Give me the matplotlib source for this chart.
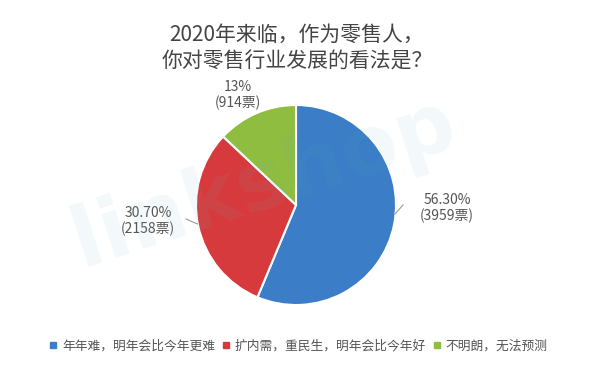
import matplotlib
matplotlib.use("Agg")
import matplotlib.pyplot as plt
from matplotlib.lines import Line2D

plt.rcParams['font.family'] = ['Noto Sans CJK SC', 'DejaVu Sans']

# Survey results
categories = ["年年难，明年会比今年更难", "扩内需，重民生，明年会比今年好", "不明朗，无法预测"]
shares = [56.3, 30.7, 13.0]
votes = [3959, 2158, 914]
pct_labels = ["56.30%", "30.70%", "13%"]
colors = ["#3b7dc6", "#d73a3c", "#8fbd40"]

title = "2020年来临，作为零售人，\n你对零售行业发展的看法是？"

W, H = 600, 365
fig = plt.figure(figsize=(W / 100, H / 100), dpi=100)
fig.patch.set_facecolor("white")

# Faint watermark behind the pie
fig.text(0.44, 0.50, "linkshop", fontsize=60, fontweight="bold", color="#5fb8c0",
         alpha=0.08, rotation=18, ha="center", va="center", family="DejaVu Sans",
         zorder=0)

# Pie axes: centre (296, 205) px, radius 100 px
cx, cy, r = 296, 205, 100
ax = fig.add_axes([(cx - r) / W, (H - cy - r) / H, 2 * r / W, 2 * r / H])
ax.patch.set_alpha(0)

wedges, _ = ax.pie(shares, colors=colors, startangle=90, counterclock=False,
                   radius=1.0, wedgeprops=dict(edgecolor="white", linewidth=1.5))
ax.set_xlim(-1, 1)
ax.set_ylim(-1, 1)
ax.set_aspect("equal")
ax.axis("off")

# Data labels
label_pos = [(1.51, -0.03), (-1.48, -0.16), (-0.58, 1.10)]
for (x, y), p, v in zip(label_pos, pct_labels, votes):
    ax.text(x, y, f"{p}\n({v}票)", ha="center", va="center", fontsize=10,
            color="#555555", linespacing=1.1, clip_on=False)

# Leader lines
ax.plot([0.99, 1.07], [-0.09, 0.0], color="#9a9a9a", lw=0.8, clip_on=False)
ax.plot([-0.985, -1.10], [-0.19, -0.14], color="#9a9a9a", lw=0.8, clip_on=False)

# Title
fig.text(0.495, 1 - 48 / H, title, ha="center", va="center", fontsize=15,
         color="#444444", linespacing=1.25)

# Legend
handles = [Line2D([0], [0], marker="s", linestyle="none", markersize=5,
                  markerfacecolor=c, markeredgecolor=c) for c in colors]
leg = fig.legend(handles, categories, loc="center", ncol=3,
                 bbox_to_anchor=(0.497, 1 - 346 / H), frameon=False,
                 fontsize=9.2, handlelength=0.7, handletextpad=0.35,
                 columnspacing=0.5, borderpad=0)
for t in leg.get_texts():
    t.set_color("#555555")

fig.savefig("out.png", dpi=100, facecolor="white")
